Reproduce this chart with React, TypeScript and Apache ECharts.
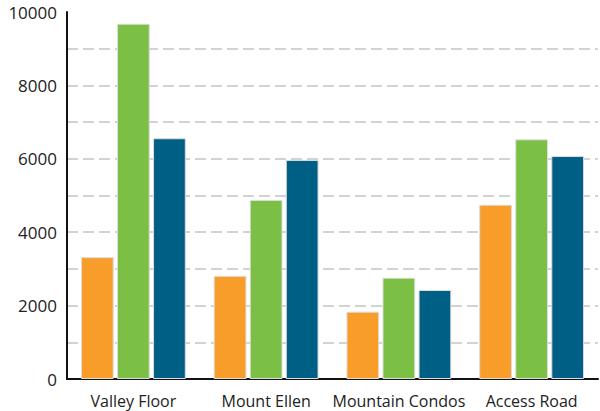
import React, { useEffect, useRef } from "react";
import * as echarts from "echarts";

const categories = ["Valley Floor", "Mount Ellen", "Mountain Condos", "Access Road"];
const seriesOrange = [3320, 2810, 1835, 4750];
const seriesGreen = [9680, 4880, 2760, 6530];
const seriesBlue = [6560, 5970, 2425, 6075];
const colors = ["#F99D2A", "#7BBF45", "#005F85"];

export default function App() {
  const ref = useRef<HTMLDivElement>(null);
  useEffect(() => {
    const chart = echarts.init(ref.current!, null, { renderer: "svg" });
    const font = "'Open Sans', sans-serif";
    const mk = (data: number[], i: number) => ({
      type: "bar",
      data,
      barGap: "10%",
      barCategoryGap: "21%",
      itemStyle: { color: colors[i], borderColor: "#dddddd", borderWidth: 1 },
    });
    chart.setOption({
      animation: false,
      grid: { left: 67, right: 2, top: 12, bottom: 32, containLabel: false },
      xAxis: {
        type: "category",
        data: categories,
        axisLine: { lineStyle: { color: "#111", width: 2 } },
        axisTick: { show: false },
        axisLabel: {
          color: "#222",
          fontSize: 16,
          fontFamily: font,
          margin: 14,
          interval: 0,
          hideOverlap: false,
        },
      },
      yAxis: {
        type: "value",
        min: 0,
        max: 10000,
        interval: 1000,
        axisLine: { show: true, lineStyle: { color: "#111", width: 2 } },
        axisTick: { show: false },
        axisLabel: {
          color: "#222",
          fontSize: 17,
          fontFamily: font,
          margin: 10,
          formatter: (v: number) => (v % 2000 === 0 ? String(v) : ""),
        },
        splitLine: {
          show: true,
          showMaxLine: false,
          lineStyle: { color: "#c4c4c4", type: [11, 5], width: 1.5 },
        },
      },
      series: [mk(seriesOrange, 0), mk(seriesGreen, 1), mk(seriesBlue, 2)],
    });
    return () => chart.dispose();
  }, []);
  return (
    <div
      ref={ref}
      style={{ position: "absolute", left: 0, top: 0, width: 600, height: 411 }}
    />
  );
}
